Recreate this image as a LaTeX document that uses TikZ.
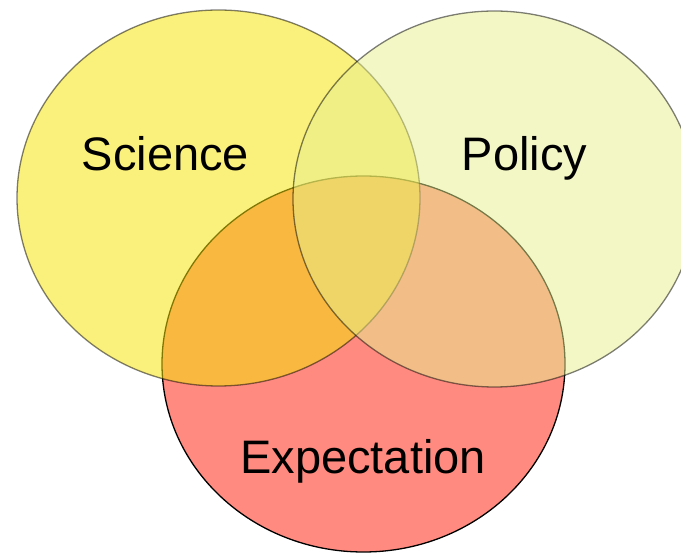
\documentclass[tikz,border=0pt]{standalone}
\usepackage{fontspec}
\setmainfont{Liberation Sans}
\definecolor{expfill}{RGB}{255,138,128}
\definecolor{scifill}{RGB}{245,226,8}
\definecolor{polfill}{RGB}{231,239,143}
\tikzset{
  setshape/.style={ellipse, minimum width=403pt, minimum height=376pt, inner sep=0pt, line width=1.3pt},
  label/.style={font=\fontsize{47}{50}\selectfont, anchor=base, text=black}
}
\usetikzlibrary{shapes.geometric}
\begin{document}
\begin{tikzpicture}[x=1pt,y=-1pt]
\useasboundingbox (0,0) rectangle (681,553);
\begin{scope}
\clip (0,0) rectangle (681,553);
\node[setshape, draw=black, fill=expfill] (exp) at (363.5,364) {};
\node[setshape, draw=black, draw opacity=0.5, fill=scifill, fill opacity=0.53] (sci) at (218.5,198) {};
\node[setshape, draw=black, draw opacity=0.5, fill=polfill, fill opacity=0.51] (pol) at (494.5,199) {};
\end{scope}
\node[label] (scit) at (165.5,171) {Science};
\node[label] (polt) at (524.5,171) {Policy};
\node[label] (expt) at (363,474) {Expectation};
\end{tikzpicture}
\end{document}
